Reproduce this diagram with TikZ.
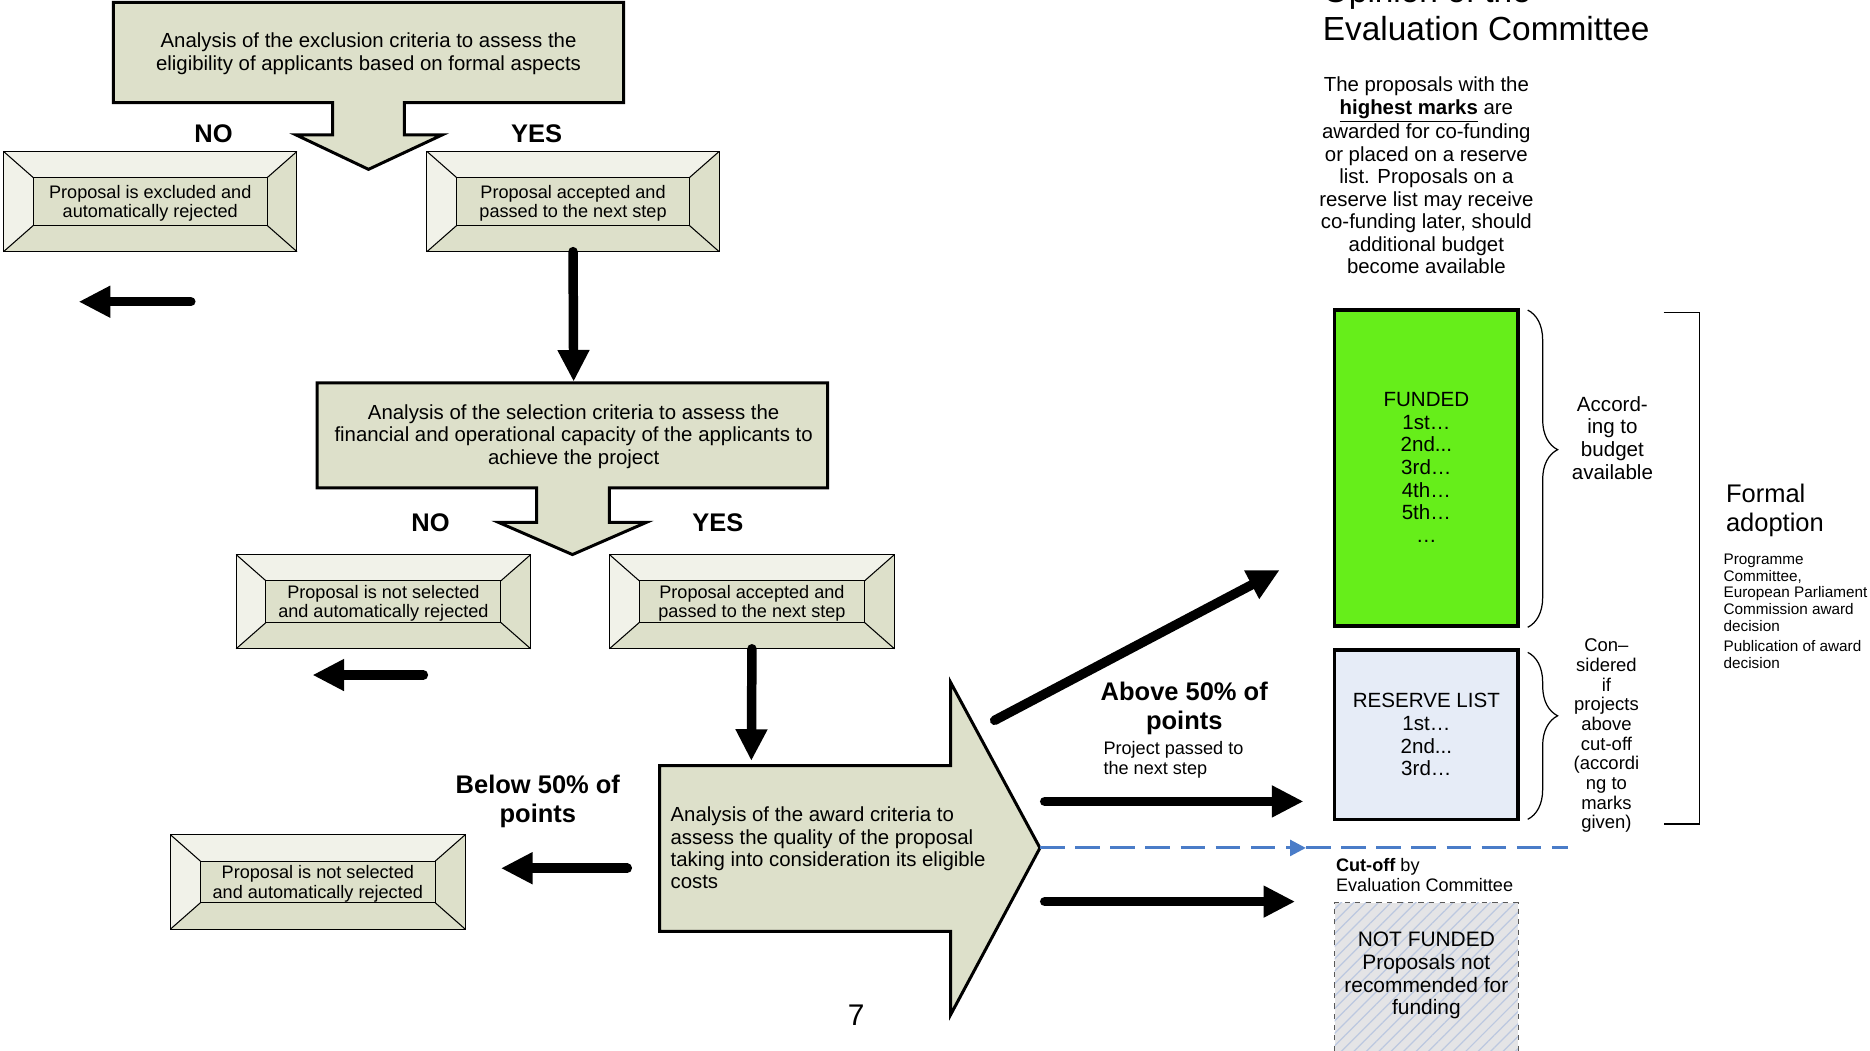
\documentclass[tikz,border=0pt]{standalone}
\usepackage{fontspec}
\setmainfont{Liberation Sans}
\usetikzlibrary{arrows.meta,decorations.pathreplacing,patterns.meta}
\definecolor{caja}{RGB}{221,224,202}
\definecolor{claro}{RGB}{241,242,233}
\definecolor{verde}{RGB}{102,238,26}
\definecolor{reserva}{RGB}{230,236,247}
\definecolor{gris}{RGB}{228,228,230}
\definecolor{rayas}{RGB}{188,200,224}
\definecolor{azul}{RGB}{74,124,200}
\begin{document}
\begin{tikzpicture}[x=0.02385cm, y=-0.02385cm, line join=miter,
  bloque/.style={fill=caja, draw=black, line width=1.7pt},
  flecha/.style={line width=5.4pt, line cap=round, -{Triangle[length=18pt,width=17pt]}},
  texto/.style={align=center, font=\fontsize{11.6}{12.9}\selectfont},
  bevtexto/.style={align=center, font=\fontsize{10.3}{11.2}\selectfont},
  etiq/.style={align=center, font=\fontsize{14.5}{16.4}\selectfont\bfseries},
  lista/.style={align=center, font=\fontsize{11.7}{12.9}\selectfont},
  nota/.style={align=center, font=\fontsize{10.5}{11.2}\selectfont},
  chico/.style={align=left, anchor=west, inner sep=0pt, font=\fontsize{8.7}{9.5}\selectfont},
  corte/.style={draw=azul, line width=1.7pt, dash pattern=on 14pt off 6pt}]
  \useasboundingbox (0,0) rectangle (1568,881);
  % los bloques grandes
  \filldraw[bloque] (95,2) -- (523,2) -- (523,86) -- (339,86) -- (339,113) -- (371,113)
    -- (309,142) -- (248,113) -- (279,113) -- (279,86) -- (95,86) -- cycle;
  \node[texto] (excl) at (309,45) {Analysis of the exclusion criteria to assess the\\eligibility of applicants based on formal aspects};
  \filldraw[bloque] (266,321) -- (694,321) -- (694,409) -- (511,409) -- (511,438) -- (542,438)
    -- (480,465) -- (418,438) -- (450,438) -- (450,409) -- (266,409) -- cycle;
  \node[texto] (sel) at (481,366) {Analysis of the selection criteria to assess the\\financial and operational capacity of the applicants to\\achieve the project};
  \filldraw[bloque] (553,642) -- (797,642) -- (797,572) -- (872,711) -- (797,851)
    -- (797,781) -- (553,781) -- cycle;
  \node[texto, align=left, anchor=west, inner sep=0pt, font=\fontsize{11.6}{12.7}\selectfont] (award) at (562,711) {Analysis of the award criteria to\\assess the quality of the proposal\\taking into consideration its eligible\\costs};
  % las cajas biseladas
  \foreach \xa/\ya/\xb/\yb/\nm/\txt in {
    3/127/249/211/no1/{Proposal is excluded and\\automatically rejected},
    358/127/603/211/yes1/{Proposal accepted and\\passed to the next step},
    198/465/445/544/no2/{Proposal is not selected\\and automatically rejected},
    511/465/750/544/yes2/{Proposal accepted and\\passed to the next step},
    143/700/390/779/no3/{Proposal is not selected\\and automatically rejected}} {
    \fill[caja] (\xa,\ya) rectangle (\xb,\yb);
    \fill[claro] (\xa,\ya) -- (\xb,\ya) -- (\xb-25,\ya+22) -- (\xa+25,\ya+22)
      -- (\xa+25,\yb-22) -- (\xa,\yb) -- cycle;
    \draw[line width=0.6pt] (\xa,\ya) -- (\xa+25,\ya+22) (\xb,\ya) -- (\xb-25,\ya+22)
      (\xa,\yb) -- (\xa+25,\yb-22) (\xb,\yb) -- (\xb-25,\yb-22);
    \draw[line width=0.6pt] (\xa+25,\ya+22) rectangle (\xb-25,\yb-22);
    \draw[line width=0.6pt] (\xa,\ya) rectangle (\xb,\yb);
    \node[bevtexto] (\nm) at ({(\xa+\xb)/2},{(\ya+\yb)/2+1.5}) {\txt};
    \coordinate (\nm-b) at ({(\xa+\xb)/2},\yb);
  }
  % si y no
  \node[etiq] (no-a) at (179,112) {NO};
  \node[etiq] (yes-a) at (450,112) {YES};
  \node[etiq] (no-b) at (361,438) {NO};
  \node[etiq] (yes-b) at (602,438) {YES};
  \node[etiq] (below) at (451,672) {Below 50\% of\\points};
  \node[etiq] (above) at (993,594) {Above 50\% of\\points};
  \node[texto, align=left, anchor=west, inner sep=0pt, font=\fontsize{10.3}{11.5}\selectfont] (passed) at (925,637) {Project passed to\\the next step};
  \node[font=\fontsize{17}{20}\selectfont] (pag) at (718,851) {7};
  % las flechas
  \coordinate (sel-t) at (481,320);
  \coordinate (award-t) at (630,638);
  \coordinate (no1-f) at (160,253);
  \coordinate (no1-l) at (66,253);
  \coordinate (no2-f) at (355,566);
  \coordinate (no2-l) at (262,566);
  \coordinate (no3-f) at (526,728);
  \coordinate (no3-l) at (420,728);
  \coordinate (up-f) at (834,604);
  \coordinate (up-l) at (1073,478);
  \coordinate (res-f) at (876,672);
  \coordinate (res-l) at (1093,672);
  \coordinate (nf-f) at (876,756);
  \coordinate (nf-l) at (1086,756);
  \coordinate (tip) at (872,711);
  \coordinate (cut-m) at (1095,711);
  \coordinate (cut-e) at (1315,711);
  \draw[flecha] (yes1-b) -- (sel-t);
  \draw[flecha] (yes2-b) -- (award-t);
  \draw[flecha] (no1-f) -- (no1-l);
  \draw[flecha] (no2-f) -- (no2-l);
  \draw[flecha] (no3-f) -- (no3-l);
  \draw[flecha] (up-f) -- (up-l);
  \draw[flecha] (res-f) -- (res-l);
  \draw[flecha] (nf-f) -- (nf-l);
  \draw[corte, -{Triangle[length=9pt,width=9pt]}] (tip) -- (cut-m);
  \draw[corte] (cut-m) -- (cut-e);
  % el comite
  \node[anchor=base west, inner sep=0pt, font=\fontsize{19}{22}\selectfont] (opin) at (1109,2) {Opinion of the};
  \node[anchor=base west, inner sep=0pt, font=\fontsize{19}{22}\selectfont] (comite) at (1109,34) {Evaluation Committee};
  \node[texto, font=\fontsize{11.6}{12.8}\selectfont] (parrafo) at (1196,147) {The proposals with the\\\textbf{\underline{highest marks}} are\\awarded for co-funding\\or placed on a reserve\\list. Proposals on a\\reserve list may receive\\co-funding later, should\\additional budget\\become available};
  % las listas
  \filldraw[fill=verde, line width=2pt] (1119,260) rectangle (1273,525);
  \node[lista] (funded) at (1196,392) {FUNDED\\1st…\\2nd...\\3rd…\\4th…\\5th…\\…};
  \filldraw[fill=reserva, line width=2pt] (1119,545) rectangle (1273,687);
  \node[lista] (reserve) at (1196,616) {RESERVE LIST\\1st…\\2nd...\\3rd…};
  \fill[gris] (1119,757) rectangle (1273,890);
  \fill[pattern={Lines[angle=45,distance=5pt,line width=0.7pt]}, pattern color=rayas] (1119,757) rectangle (1273,890);
  \draw[dashed, gray!70!black, line width=0.6pt] (1119,890) -- (1119,757) -- (1273,757) -- (1273,890);
  \node[lista, font=\fontsize{11.9}{12.9}\selectfont] (notfunded) at (1196,818) {NOT FUNDED\\Proposals not\\recommended for\\funding};
  \node[texto, align=left, anchor=west, inner sep=0pt, font=\fontsize{10.3}{11.5}\selectfont] (cutoff) at (1120,734) {\textbf{Cut-off} by\\Evaluation Committee};
  % las llaves
  \draw[line width=0.7pt, decorate, decoration={brace, amplitude=17pt, aspect=0.44}] (1281,260) -- (1281,526);
  \draw[line width=0.7pt, decorate, decoration={brace, amplitude=17pt, aspect=0.38}] (1281,547) -- (1281,687);
  \draw[line width=1pt] (1395,262) -- (1425,262) -- (1425,691) -- (1395,691);
  \node[lista] (budget) at (1352,367) {Accord-\\ing to\\budget\\available};
  \node[nota] (consid) at (1347,617) {Con--\\sidered\\if\\projects\\above\\cut-off\\(accordi\\ng to\\marks\\given)};
  \node[chico, font=\fontsize{14.5}{16.3}\selectfont] (formal) at (1447,428) {Formal\\adoption};
  \node[chico] (progr) at (1445,497) {Programme\\Committee,\\European Parliament\\Commission award\\decision};
  \node[chico] (publ) at (1445,549) {Publication of award\\decision};
\end{tikzpicture}
\end{document}
